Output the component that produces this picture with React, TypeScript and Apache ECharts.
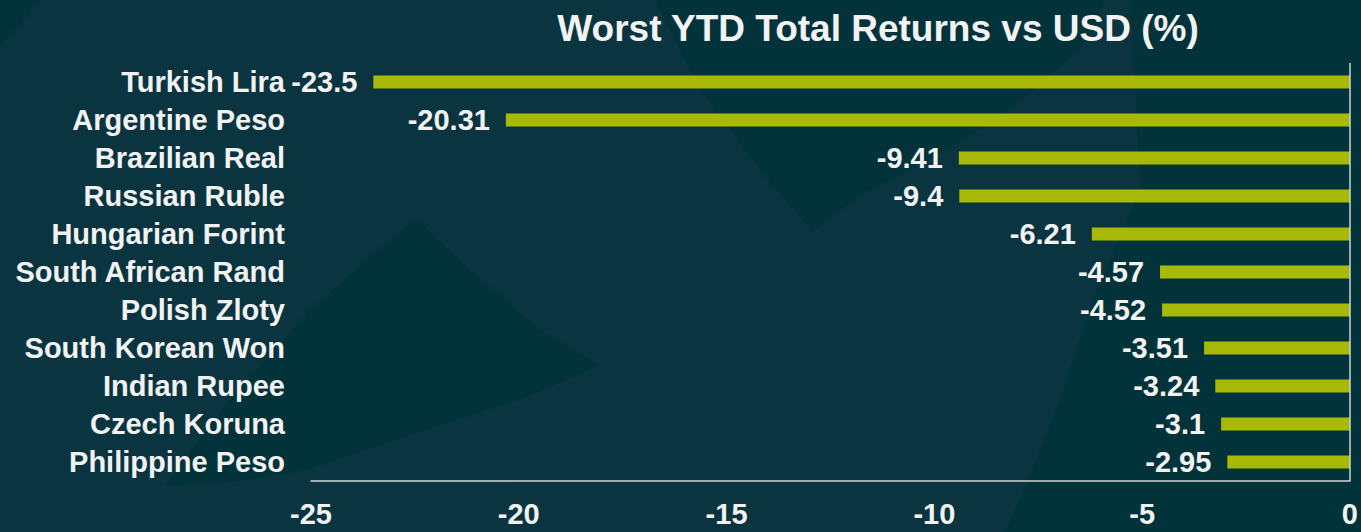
import React, { useEffect, useRef } from "react";
import * as echarts from "echarts";

const categories = [
  "Turkish Lira",
  "Argentine Peso",
  "Brazilian Real",
  "Russian Ruble",
  "Hungarian Forint",
  "South African Rand",
  "Polish Zloty",
  "South Korean Won",
  "Indian Rupee",
  "Czech Koruna",
  "Philippine Peso",
];
const returnsVsUsd = [-23.5, -20.31, -9.41, -9.4, -6.21, -4.57, -4.52, -3.51, -3.24, -3.1, -2.95];
const titleText = "Worst YTD Total Returns vs USD (%)";

const FONT = "'Liberation Sans', Arial, sans-serif";
const BG = "#0a3540";
const DARK = "#02323a";
const AXIS = "#d0d5d5";

export default function App() {
  const ref = useRef<HTMLDivElement>(null);
  useEffect(() => {
    if (!ref.current) return;
    const chart = echarts.init(ref.current, undefined, { renderer: "svg" });
    const bgShape = (points: number[][]) => ({
      type: "polygon",
      silent: true,
      z: -10,
      shape: { points },
      style: { fill: DARK },
    });
    chart.setOption({
      animation: false,
      backgroundColor: BG,
      title: {
        text: titleText,
        left: 873,
        textAlign: "center",
        top: 5,
        textStyle: { color: "#f2f2f2", fontFamily: FONT, fontWeight: "bold", fontSize: 37 },
      },
      graphic: [
        bgShape([[0, 0], [42, 0], [0, 46]]),
        bgShape([[165, 485], [230, 400], [310, 310], [415, 218], [470, 270], [540, 330], [600, 365], [527, 397], [450, 422], [380, 445], [307, 470], [227, 483]]),
        bgShape([[655, 0], [700, 90], [760, 170], [813, 232], [860, 195], [930, 160], [1010, 110], [1080, 50], [1105, 0]]),
        bgShape([[1130, 0], [1361, 0], [1361, 532], [1005, 532], [1027, 483], [1060, 400], [1093, 300], [1140, 190], [1135, 80]]),
      ],
      grid: { left: 311, right: 8, top: 63, bottom: 51, containLabel: false },
      xAxis: {
        type: "value",
        min: -25,
        max: 0,
        interval: 5,
        axisLine: { show: true, onZero: false, lineStyle: { color: AXIS, width: 1.5 } },
        axisTick: { show: false },
        splitLine: { show: false },
        axisLabel: {
          color: "#f2f2f2",
          fontFamily: FONT,
          fontWeight: "bold",
          fontSize: 29,
          margin: 18,
        },
      },
      yAxis: {
        type: "category",
        data: categories,
        inverse: true,
        axisLine: { show: false, onZero: false },
        axisTick: { show: false },
        axisLabel: {
          color: "#f2f2f2",
          fontFamily: FONT,
          fontWeight: "bold",
          fontSize: 29,
          margin: 26,
        },
      },
      series: [
        {
          type: "bar",
          data: returnsVsUsd,
          barWidth: 13,
          itemStyle: { color: "#a9b908" },
          label: {
            show: true,
            position: "left",
            distance: 16,
            color: "#f2f2f2",
            fontFamily: FONT,
            fontWeight: "bold",
            fontSize: 29,
          },
          markLine: {
            silent: true,
            symbol: "none",
            label: { show: false },
            lineStyle: { color: AXIS, width: 1.5, type: "solid" },
            data: [{ xAxis: 0 }],
          },
        },
      ],
    });
    return () => chart.dispose();
  }, []);
  return (
    <div
      ref={ref}
      style={{ position: "fixed", left: 0, top: 0, width: 1361, height: 532 }}
    />
  );
}
